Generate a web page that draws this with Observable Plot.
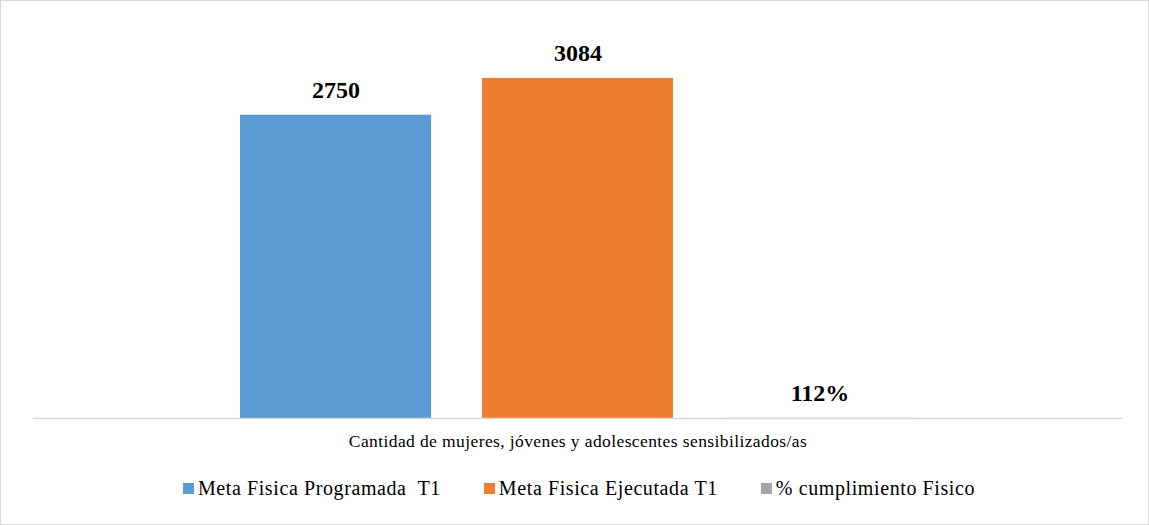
<!DOCTYPE html>
<html>
<head>
<meta charset="utf-8">
<script src="https://cdn.jsdelivr.net/npm/d3@7"></script>
<script src="https://cdn.jsdelivr.net/npm/@observablehq/plot@0.6"></script>
<style>
  html, body { margin: 0; padding: 0; background: #fff; }
  #wrap { width: 1149px; height: 525px; box-sizing: border-box; border: 1px solid #d9d9d9; position: relative; overflow: hidden; font-family: "Liberation Serif", "Times New Roman", serif; }
  #legend { position: absolute; left: 0; right: 0; top: 475px; height: 24px; padding-left: 9px; display: flex; justify-content: center; align-items: center; gap: 43px; font-size: 20px; letter-spacing: 0.6px; color: #000; }
  .item { display: flex; align-items: center; white-space: pre; line-height: 24px; }
  .sw { width: 11px; height: 11px; margin-right: 4px; display: inline-block; }
</style>
</head>
<body>
<div id="wrap"><div id="chart"></div><div id="legend"></div></div>
<script>
const category = ["Cantidad de mujeres, jóvenes y adolescentes sensibilizados/as"];
const series = ["Meta Fisica Programada  T1", "Meta Fisica Ejecutada T1", "% cumplimiento Fisico"];
const values = [2750, 3084, 1.12];
const labels = ["2750", "3084", "112%"];
const colors = ["#5B9BD5", "#ED7D31", "#A5A5A5"];

const data = series.map((s, i) => ({category: category[0], series: s, value: values[i], label: labels[i]}));

const chart = Plot.plot({
  width: 1147,
  height: 455,
  marginTop: 31,
  marginBottom: 38,
  marginLeft: 32,
  marginRight: 26,
  style: {fontFamily: "'Liberation Serif', 'Times New Roman', serif", background: "#fff"},
  fx: {padding: 0, label: null, axis: "bottom", tickSize: 0, tickPadding: 16},
  x: {domain: series, axis: null, paddingInner: 0.2107, paddingOuter: 0.855},
  y: {domain: [0, 3500], axis: null},
  color: {domain: series, range: colors},
  marks: [
    Plot.barY(data, {fx: "category", x: "series", y: "value", fill: "series"}),
    Plot.ruleY([0], {stroke: "#d9d9d9", strokeWidth: 1.5}),
    Plot.text(data, {fx: "category", x: "series", y: "value", text: "label", dy: -25, fontSize: 24, fontWeight: "bold", fill: "#000", style: {letterSpacing: "0.3px"}})
  ]
});
const fxAxis = chart.querySelector('[aria-label="fx-axis tick label"]');
if (fxAxis) {
  fxAxis.setAttribute("font-size", "17.5");
  fxAxis.setAttribute("fill", "#000");
  fxAxis.style.letterSpacing = "0.4px";
}
document.getElementById("chart").appendChild(chart);

const legend = document.getElementById("legend");
series.forEach((s, i) => {
  const it = document.createElement("div");
  it.className = "item";
  const sw = document.createElement("span");
  sw.className = "sw";
  sw.style.background = colors[i];
  it.appendChild(sw);
  it.appendChild(document.createTextNode(s));
  legend.appendChild(it);
});
</script>
</body>
</html>
